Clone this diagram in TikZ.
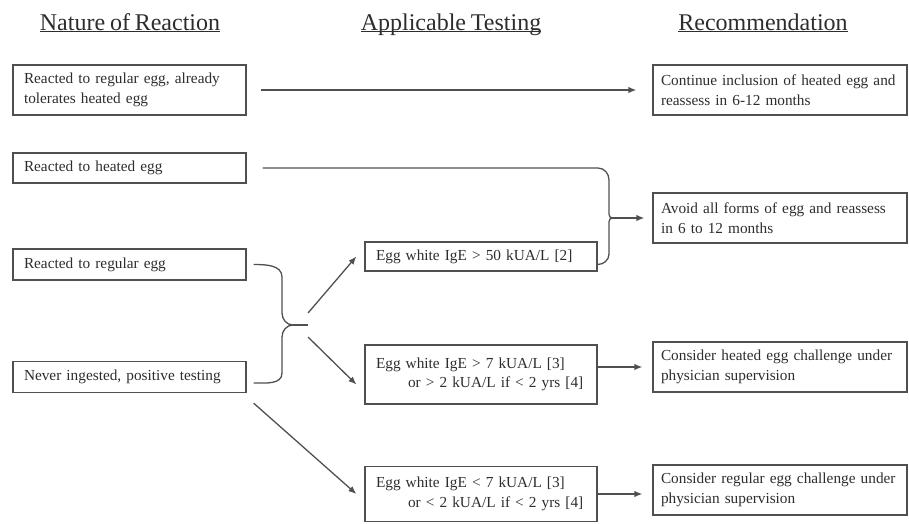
\documentclass[tikz,border=0pt]{standalone}
\usepackage{fontspec}
\setmainfont[WordSpace=0.8]{Liberation Serif}
\usetikzlibrary{arrows.meta}
\definecolor{inkgray}{RGB}{45,45,45}
\definecolor{rulegray}{RGB}{80,80,80}

\begin{document}
\begin{tikzpicture}[
	x=1pt, y=-1pt,
	font=\fontsize{15.3}{19.5}\selectfont,
	every node/.style={text=inkgray},
	box/.style={draw=rulegray, line width=1.3pt, inner ysep=0pt},
	reaction/.style={box, align=left, text width=211pt, inner xsep=11pt},
	testing/.style={box, align=left, text width=210pt, inner xsep=11pt},
	advice/.style={box, align=left, text width=238pt, inner xsep=8pt},
	heading/.style={font=\fontsize{24}{28}\selectfont, anchor=base},
	link/.style={draw=rulegray, line width=1.3pt},
	>={Latex[length=8pt, width=6.5pt]}
	]
	\useasboundingbox (0, 0) rectangle (909, 523);

	% column headings
	\node (headreaction) [heading] at (130, 30) {\underline{\smash{Nature of Reaction}}};
	\node (headtesting) [heading] at (451, 30) {\underline{\smash{Applicable Testing}}};
	\node (headadvice) [heading] at (763, 30) {\underline{\smash{Recommendation}}};

	% nature of reaction
	\node (regularheated) [reaction, minimum height=50pt] at (129.5, 90) {Reacted to regular egg, already\\tolerates heated egg};
	\node (heated) [reaction, minimum height=30pt] at (129.5, 168) {Reacted to heated egg};
	\node (regular) [reaction, minimum height=31pt] at (129.5, 264.5) {Reacted to regular egg};
	\node (never) [reaction, minimum height=31pt] at (129.5, 377) {Never ingested, positive testing};

	% applicable testing
	\node (high) [testing, minimum height=29pt] at (481, 256.5) {Egg white IgE > 50 kUA/L [2]};
	\node (mid) [testing, minimum height=59pt] at (481, 374.5) {Egg white IgE > 7 kUA/L [3]\\\hspace*{32pt}or > 2 kUA/L if < 2 yrs [4]};
	\node (low) [testing, minimum height=55pt] at (481, 494) {Egg white IgE < 7 kUA/L [3]\\\hspace*{32pt}or < 2 kUA/L if < 2 yrs [4]};

	% recommendation
	\node (continue) [advice, minimum height=50pt] at (780, 90) {Continue inclusion of heated egg and\\reassess in 6-12 months};
	\node (avoid) [advice, minimum height=50pt] at (780, 218) {Avoid all forms of egg and reassess\\in 6 to 12 months};
	\node (heatchal) [advice, minimum height=50pt] at (780, 367) {Consider heated egg challenge under\\physician supervision};
	\node (regchal) [advice, minimum height=50pt] at (780, 490) {Consider regular egg challenge under\\physician supervision};

	\draw [link, ->, shorten <=14pt, shorten >=16pt] (regularheated) -- (continue);

	% brace joining heated egg and IgE > 50
	\coordinate (rcusp) at ([xshift=-40pt]avoid.west);
	\draw [link] ([xshift=16pt]heated.east) -- (598, 168) to[out=0, in=90] (609, 180) -- (609, 207) to[out=-90, in=180] (rcusp)
		to[out=180, in=90] (609, 229) -- (609, 254) to[out=-90, in=0] ([yshift=-8pt]high.east);
	\draw [link, ->, shorten >=8pt] (rcusp) -- (avoid.west);

	% brace joining regular egg and never ingested
	\coordinate (lcusp) at (293, 325);
	\draw [link] ([xshift=7pt]regular.east) to[out=0, in=90] (282, 277) -- (282, 313) to[out=-90, in=180] (lcusp)
		to[out=180, in=90] (282, 337) -- (282, 373) to[out=-90, in=0] ([xshift=7pt, yshift=-6pt]never.east);
	\draw [link] (lcusp) --++ (15, 0);
	\draw [link, ->] ([xshift=15pt, yshift=12pt]lcusp) -- ([xshift=-8pt]high.west);
	\draw [link, ->] ([xshift=15pt, yshift=-12pt]lcusp) -- ([xshift=-8pt, yshift=-10pt]mid.west);
	\draw [link, ->] ([xshift=7pt, yshift=-10pt]never.south east) -- ([xshift=-8pt]low.west);

	\draw [link, ->, shorten >=10pt] (heatchal.west -| mid.east) -- (heatchal.west);
	\draw [link, ->, shorten >=10pt] (low.east) -- (low.east -| regchal.west);
\end{tikzpicture}
\end{document}
